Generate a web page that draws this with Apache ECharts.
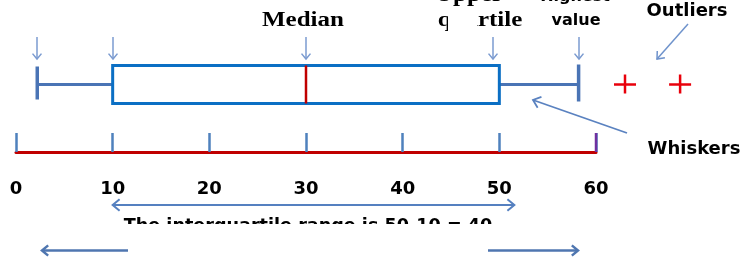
<!DOCTYPE html>
<html><head><meta charset="utf-8">
<script src="https://cdn.jsdelivr.net/npm/echarts@6/dist/echarts.min.js"></script>
<style>html,body{margin:0;padding:0;background:#fff}#c{width:742px;height:258px}</style>
</head><body><div id="c"></div>
<script>
// ---- data ----
const boxCategory = ['sample'];
const boxStats = [2.2, 10, 30, 50, 58.2];   // lowest, lower quartile, median, upper quartile, highest
const outlierValues = [63, 68.7];
const tickLabels = ['0', '10', '20', '30', '40', '50', '60'];
const axisMin = 0, axisMax = 60, axisStep = 10;
const iqrText = 'The interquartile range is 50-10 = 40';

const chart = echarts.init(document.getElementById('c'));

const SANS = 'DejaVu Sans';
const SERIF = 'Liberation Serif';

chart.setOption({
  animation: false,
  backgroundColor: '#fff',
  grid: [
    {left: 16, width: 580, top: 60, height: 49},
    {left: 16, width: 580, top: 100, height: 52}
  ],
  xAxis: [
    {gridIndex: 0, type: 'value', min: axisMin, max: axisMax, show: false},
    {gridIndex: 1, type: 'value', min: axisMin, max: axisMax, interval: axisStep,
     axisLine: {show: true, lineStyle: {color: '#c00000', width: 3}},
     axisTick: {show: true, inside: true, length: 19, lineStyle: {color: '#4f81bd', width: 2.5}},
     splitLine: {show: false},
     axisLabel: {margin: 28, color: '#000', fontFamily: SANS, fontWeight: 'bold', fontSize: 18,
       showMinLabel: true, showMaxLabel: true,
       formatter: (v, i) => tickLabels[i]}}
  ],
  yAxis: [
    {gridIndex: 0, type: 'category', data: boxCategory, show: false},
    {gridIndex: 1, type: 'value', show: false}
  ],
  series: [
    {
      type: 'custom', xAxisIndex: 0, yAxisIndex: 0,
      data: [[0].concat(boxStats)],
      encode: {x: [1, 2, 3, 4, 5], y: 0},
      renderItem(params, api) {
        const c = api.value(0);
        const p = [1, 2, 3, 4, 5].map(k => api.coord([api.value(k), c]));
        const cy = p[0][1];
        const wh = '#4a74b5';
        return {type: 'group', children: [
          {type: 'line', shape: {x1: p[0][0], y1: cy, x2: p[1][0], y2: cy}, style: {stroke: wh, lineWidth: 3}},
          {type: 'line', shape: {x1: p[3][0], y1: cy, x2: p[4][0], y2: cy}, style: {stroke: wh, lineWidth: 3}},
          {type: 'line', shape: {x1: p[0][0], y1: cy - 18, x2: p[0][0], y2: cy + 15}, style: {stroke: wh, lineWidth: 3.5}},
          {type: 'line', shape: {x1: p[4][0], y1: cy - 20, x2: p[4][0], y2: cy + 17}, style: {stroke: wh, lineWidth: 3.5}},
          {type: 'rect', shape: {x: p[1][0], y: cy - 19, width: p[3][0] - p[1][0], height: 38},
           style: {fill: '#fff', stroke: '#0b6fc4', lineWidth: 3}},
          {type: 'line', shape: {x1: p[2][0], y1: cy - 19, x2: p[2][0], y2: cy + 19}, style: {stroke: '#c00000', lineWidth: 2.5}}
        ]};
      }
    },
    {
      type: 'custom', xAxisIndex: 0, yAxisIndex: 0,
      data: outlierValues.map(v => [v, 0]),
      encode: {x: 0, y: 1},
      renderItem(params, api) {
        const pt = api.coord([api.value(0), api.value(1)]);
        const s = {stroke: '#e8000b', lineWidth: 2.5};
        return {type: 'group', children: [
          {type: 'line', shape: {x1: pt[0] - 11, y1: pt[1], x2: pt[0] + 11, y2: pt[1]}, style: s},
          {type: 'line', shape: {x1: pt[0], y1: pt[1] - 10, x2: pt[0], y2: pt[1] + 9}, style: s}
        ]};
      }
    }
  ]
});

// ---- annotations (arrows + callout texts) ----
const px = v => chart.convertToPixel({xAxisIndex: 0}, v);
const px1 = v => chart.convertToPixel({xAxisIndex: 1}, v);

function arrow(x1, y1, x2, y2, color, w, head, both) {
  const els = [{type: 'line', shape: {x1, y1, x2, y2}, style: {stroke: color, lineWidth: w}}];
  const addHead = (xa, ya, xb, yb) => {
    const ang = Math.atan2(yb - ya, xb - xa);
    const a1 = ang + Math.PI * 0.78, a2 = ang - Math.PI * 0.78;
    els.push({type: 'polyline', shape: {points: [
      [xb + head * Math.cos(a1), yb + head * Math.sin(a1)], [xb, yb],
      [xb + head * Math.cos(a2), yb + head * Math.sin(a2)]]},
      style: {stroke: color, lineWidth: w, fill: null}});
  };
  addHead(x1, y1, x2, y2);
  if (both) addHead(x2, y2, x1, y1);
  return els;
}

function txt(text, x, y, opts) {
  return Object.assign({type: 'text', x, y, z: 10, style: {
    text, fill: '#000', align: 'center', verticalAlign: 'middle',
    fontFamily: opts.family || SANS, fontWeight: 'bold', fontSize: opts.size || 18
  }}, opts.extra || {});
}

let g = [];
const downColor = '#7b9bd0';
boxStats.forEach((v, i) => {
  const x = Math.round(px(v)) + (i === 3 ? -6 : 0);
  g = g.concat(arrow(x, 37, x, 59, downColor, 1.5, 7, false));
});
g = g.concat(arrow(688, 24, 657, 59, '#6f93cc', 1.5, 8, false));
g = g.concat(arrow(627, 133, 533, 100, '#5a82c0', 1.8, 9, false));
g = g.concat(arrow(px(boxStats[1]), 205, px(boxStats[3]) + 15, 205, '#5580c0', 2, 9, true));
g = g.concat(arrow(128, 250.5, 42, 250.5, '#4f76b0', 2.5, 8, false));
g = g.concat(arrow(488, 250.5, 578, 250.5, '#4f76b0', 2.5, 8, false));

// last tick of the number line is drawn purple in the reference
const xEnd = px1(axisMax);
g.push({type: 'line', z: 5, shape: {x1: xEnd, y1: 133, x2: xEnd, y2: 152}, style: {stroke: '#7030a0', lineWidth: 2.5}});

g.push(txt('Median', 303, 21, {family: SERIF, size: 20, extra: {scaleX: 1.25}}));
g.push(txt('Upper', 469, -4, {family: SERIF, size: 20, extra: {scaleX: 1.25}}));
g.push(txt('quartile', 480, 21, {family: SERIF, size: 20, extra: {scaleX: 1.25}}));
g.push({type: 'rect', z: 11, shape: {x: 448, y: 8, width: 29, height: 26}, style: {fill: '#fff'}});
g.push(txt('Highest', 575, -3, {size: 16}));
g.push(txt('value', 576, 21, {size: 16}));
g.push(txt('Outliers', 687, 11, {size: 18}));
g.push(txt('Whiskers', 694, 149, {size: 18}));
g.push(txt(iqrText, 308, 226, {size: 17.6}));
g.push({type: 'rect', z: 11, shape: {x: 110, y: 224, width: 400, height: 16}, style: {fill: '#fff'}});

chart.setOption({graphic: {elements: g}});
</script>
</body></html>
